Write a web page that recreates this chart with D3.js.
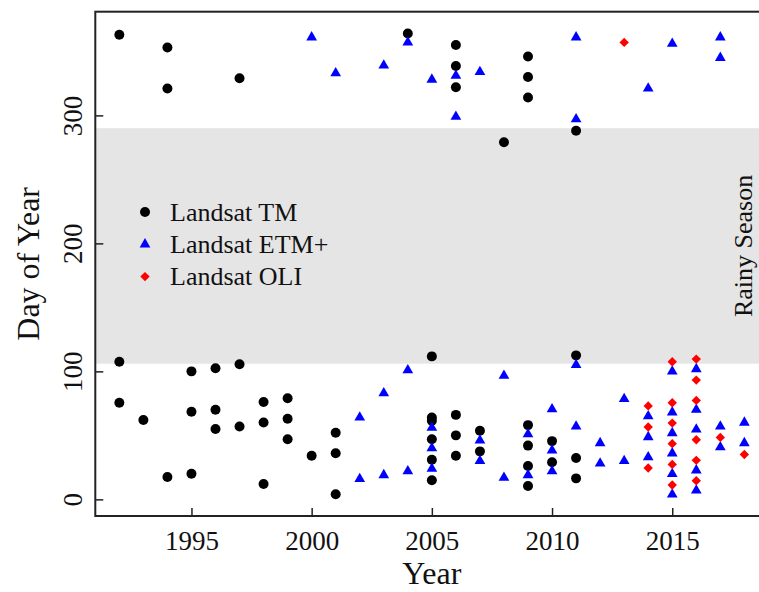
<!DOCTYPE html>
<html>
<head>
<meta charset="utf-8">
<script src="https://cdn.jsdelivr.net/npm/d3@7"></script>
<style>
  body { margin: 0; background: #fff; }
  svg { font-family: "Liberation Serif", "Times New Roman", serif; }
</style>
</head>
<body>
<div id="chart"></div>
<script>
// [year, day of year]
var tmPoints = [
  [1992, 363], [1992, 107.5], [1992, 75.5],
  [1993, 62],
  [1994, 353], [1994, 321], [1994, 17.4],
  [1995, 100], [1995, 68.5], [1995, 20],
  [1996, 102.5], [1996, 70], [1996, 55],
  [1997, 329], [1997, 105.5], [1997, 57],
  [1998, 76], [1998, 60], [1998, 12],
  [1999, 79], [1999, 63], [1999, 47],
  [2000, 34],
  [2001, 52], [2001, 36], [2001, 4],
  [2004, 364],
  [2005, 111.7], [2005, 64], [2005, 61.4], [2005, 47], [2005, 31], [2005, 15],
  [2006, 355], [2006, 338.5], [2006, 322], [2006, 66], [2006, 50], [2006, 34],
  [2007, 53.6], [2007, 37.5],
  [2008, 279],
  [2009, 346], [2009, 330], [2009, 314], [2009, 58], [2009, 42], [2009, 26], [2009, 10.4],
  [2010, 45.5], [2010, 29],
  [2011, 288], [2011, 112.5], [2011, 32.3], [2011, 16.4]
];
var etmPoints = [
  [2000, 361],
  [2001, 333],
  [2002, 64], [2002, 16],
  [2003, 339], [2003, 83], [2003, 19],
  [2004, 357], [2004, 101], [2004, 22],
  [2005, 328], [2005, 56], [2005, 40], [2005, 24],
  [2006, 331], [2006, 299],
  [2007, 334], [2007, 46], [2007, 30],
  [2008, 96.6], [2008, 17],
  [2009, 51], [2009, 19],
  [2010, 70.5], [2010, 38.3], [2010, 22],
  [2011, 361], [2011, 297], [2011, 105], [2011, 57],
  [2012, 44], [2012, 28],
  [2013, 78.4], [2013, 30],
  [2014, 321], [2014, 65], [2014, 48.7], [2014, 33],
  [2015, 356], [2015, 100], [2015, 68], [2015, 51.8], [2015, 36], [2015, 19.8], [2015, 3.9],
  [2016, 101.8], [2016, 70], [2016, 54.7], [2016, 22.7], [2016, 7],
  [2017, 361], [2017, 345], [2017, 57], [2017, 40.8],
  [2018, 60], [2018, 44]
];
var oliPoints = [
  [2013, 357],
  [2014, 73], [2014, 56.5], [2014, 24.5],
  [2015, 107.5], [2015, 75.5], [2015, 59.6], [2015, 43.5], [2015, 27.3], [2015, 11.2],
  [2016, 109.6], [2016, 93.2], [2016, 77.3], [2016, 46.6], [2016, 30.5], [2016, 14.5],
  [2017, 48.4],
  [2018, 35]
];
var rainySeason = [106, 290];
var xTicks = [1995, 2000, 2005, 2010, 2015];
var yTicks = [0, 100, 200, 300];
var legendLabels = ["Landsat TM", "Landsat ETM+", "Landsat OLI"];

var width = 759, height = 592;
var plotLeft = 95.3, plotTop = 11.7, plotBottom = 516, plotRight = 768.4;

var svg = d3.select("#chart").append("svg")
    .attr("width", width)
    .attr("height", height);

var x = d3.scaleLinear().domain([1991, 2019]).range([plotLeft, plotRight]);
var y = d3.scaleLinear().domain([-13, 381]).range([plotBottom, plotTop]);

// rainy season band
svg.append("rect")
    .attr("x", plotLeft)
    .attr("width", plotRight - plotLeft)
    .attr("y", y(rainySeason[1]))
    .attr("height", y(rainySeason[0]) - y(rainySeason[1]))
    .attr("fill", "#e5e5e5");

svg.append("text")
    .attr("transform", "translate(752," + ((y(rainySeason[0]) + y(rainySeason[1])) / 2) + ") rotate(-90)")
    .attr("text-anchor", "middle")
    .attr("font-size", 26)
    .attr("fill", "#111")
    .text("Rainy Season");

// axes (ticks point inward)
var xAxis = svg.append("g")
    .attr("transform", "translate(0," + plotBottom + ")")
    .call(d3.axisBottom(x).tickValues(xTicks).tickFormat(d3.format("d"))
        .tickSizeInner(-8).tickSizeOuter(0));
xAxis.select(".domain").remove();
xAxis.selectAll("line").attr("stroke", "#222").attr("stroke-width", 1.5);
xAxis.selectAll("text")
    .attr("y", 34).attr("dy", 0)
    .attr("font-size", 27)
    .attr("font-family", "Liberation Serif")
    .attr("fill", "#111");

var yAxis = svg.append("g")
    .attr("transform", "translate(" + plotLeft + ",0)")
    .call(d3.axisLeft(y).tickValues(yTicks).tickSizeInner(-8).tickSizeOuter(0));
yAxis.select(".domain").remove();
yAxis.selectAll("line").attr("stroke", "#222").attr("stroke-width", 1.5);
yAxis.selectAll("text")
    .attr("x", 0).attr("dy", 0)
    .attr("transform", "translate(-13.5,0) rotate(-90)")
    .attr("text-anchor", "middle")
    .attr("font-size", 27)
    .attr("font-family", "Liberation Serif")
    .attr("fill", "#111");

// frame
svg.append("rect")
    .attr("x", plotLeft).attr("y", plotTop)
    .attr("width", plotRight - plotLeft).attr("height", plotBottom - plotTop)
    .attr("fill", "none")
    .attr("stroke", "#222")
    .attr("stroke-width", 2);

// axis titles
svg.append("text")
    .attr("x", (plotLeft + plotRight) / 2)
    .attr("y", 584)
    .attr("text-anchor", "middle")
    .attr("font-size", 32)
    .attr("fill", "#111")
    .text("Year");

svg.append("text")
    .attr("transform", "translate(39," + ((plotTop + plotBottom) / 2) + ") rotate(-90)")
    .attr("text-anchor", "middle")
    .attr("font-size", 32)
    .attr("fill", "#111")
    .text("Day of Year");

// points
var circle = d3.symbol().type(d3.symbolCircle).size(78);
var triangle = d3.symbol().type(d3.symbolTriangle).size(50);
var diamond = d3.symbol().type(d3.symbolSquare).size(44);

function drawSeries(data, sym, color, rot) {
    svg.append("g").selectAll("path")
        .data(data)
        .enter().append("path")
        .attr("d", sym)
        .attr("fill", color)
        .attr("transform", function(d) {
            return "translate(" + x(d[0]) + "," + y(d[1]) + ")" + (rot ? " rotate(45)" : "");
        });
}
drawSeries(tmPoints, circle, "#000", false);
drawSeries(etmPoints, triangle, "#0000ff", false);
drawSeries(oliPoints, diamond, "#ff0000", true);

// legend
var legend = svg.append("g").attr("transform", "translate(145,212)");
var syms = [circle, triangle, diamond];
var cols = ["#000", "#0000ff", "#ff0000"];
legendLabels.forEach(function(lab, i) {
    var row = legend.append("g").attr("transform", "translate(0," + i * 32.3 + ")");
    row.append("path")
        .attr("d", syms[i])
        .attr("fill", cols[i])
        .attr("transform", i == 2 ? "rotate(45)" : null);
    row.append("text")
        .attr("x", 25)
        .attr("y", 8.5)
        .attr("font-size", 26)
        .attr("fill", "#111")
        .text(lab);
});
</script>
</body>
</html>
